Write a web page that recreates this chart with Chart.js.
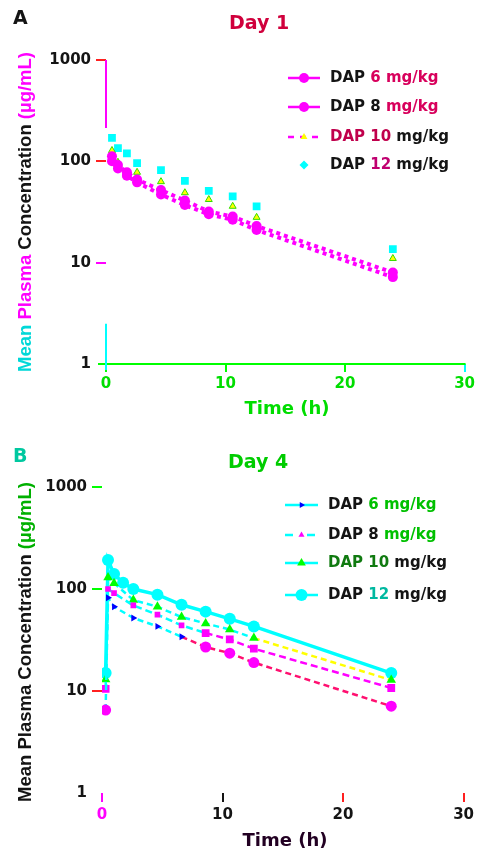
<!DOCTYPE html>
<html><head><meta charset="utf-8">
<script src="https://cdn.jsdelivr.net/npm/chart.js@4/dist/chart.umd.min.js"></script>
<style>
html,body{margin:0;padding:0;background:#fff;width:478px;height:856px;overflow:hidden}
.wrap{position:absolute;left:0;width:478px;height:428px}
#wa{top:0}#wb{top:428px}
canvas{display:block}
</style></head><body>
<div class="wrap" id="wa"><canvas id="ca" width="478" height="428"></canvas></div>
<div class="wrap" id="wb"><canvas id="cb" width="478" height="428"></canvas></div>
<script>
// ---- data ----
const seriesNames = ['DAP 6 mg/kg','DAP 8 mg/kg','DAP 10 mg/kg','DAP 12 mg/kg'];
const xTicks = [0,10,20,30];
const yTicks = [1,10,100,1000];
const panelTitles = ['Day 1','Day 4'];
const panelLetters = ['A','B'];
const xTitle = 'Time (h)';
const yTitle = ['Mean ','Plasma ','Concentration ','(\u00b5g/mL)'];

const day1Times = [0.5,1,1.75,2.6,4.6,6.6,8.6,10.6,12.6,24];
const day1Dap6  = [100,85,72,62,47,37,30,26.5,21,7.2];
const day1Dap8  = [112,92,78,66,52,41,32,28.5,23,8];
const day1Dap10 = [128,98,null,78,63,49,42,36,28,11];
const day1Dap12 = [170,135,120,96,82,64,51,45,36,13.6];

const day4Times = [0.3,0.5,1,1.75,2.6,4.6,6.6,8.6,10.6,12.6,24];
const day4Dap6  = [6.5,82,67,null,52,43,34,27,23.5,19,7.1];
const day4Dap8  = [10.5,100,91,null,69,56,44,37,32,26,10.7];
const day4Dap10 = [13,130,114,null,78,67,53,46,40,33,12.8];
const day4Dap12 = [15,192,140,115,100,88,70,60,51,43,15];

// ---- styling ----
const MAG='#ff00ff', CYA='#00ffff', YEL='#ffff00', GRN='#00ff00', RED='#ff2020', BLU='#0000ff', INK='#141414';
const F = "'DejaVu Sans', sans-serif";
const F2 = "'Liberation Sans', Arial, sans-serif";

function pts(times, vals){
  const out=[]; times.forEach((t,i)=>{ if(vals[i]!=null) out.push({x:t,y:vals[i]}); }); return out;
}
function segText(ctx, x, y, segs, align){
  let total = 0; segs.forEach(s=>{ total += ctx.measureText(s[0]).width; });
  let cx = align==='center' ? x - total/2 : x;
  ctx.textAlign='left';
  segs.forEach(([t,c])=>{ ctx.fillStyle=c; ctx.fillText(t,cx,y); cx += ctx.measureText(t).width; });
}
function splitName(name, parts){ // parts: [[len,color],...]
  const out=[]; let i=0;
  parts.forEach(([n,c])=>{ out.push([name.slice(i, i+n), c]); i+=n; });
  return out;
}

function makeScales(o){
  return {
    x:{type:'linear',min:0,max:30,
      afterBuildTicks:s=>{ s.ticks = xTicks.map(v=>({value:v})); },
      afterFit:s=>{ s.height = 30; },
      border:{display:false},
      grid:{drawOnChartArea:false,drawTicks:true,tickLength:o.xTickLen,lineWidth:2,
        color:c=> c.tick ? o.xTickColor(c.tick.value) : 'rgba(0,0,0,0)'},
      ticks:{padding:o.xPad,maxRotation:0,autoSkip:false,
        font:{family:F,weight:'bold',size:15},
        color:c=>o.xLabelColor(c.tick.value), callback:v=>String(v)}
    },
    y:{type:'logarithmic',min:1,max:1000,
      afterBuildTicks:s=>{ s.ticks = yTicks.map(v=>({value:v})); },
      afterFit:s=>{ s.width = o.yWidth; },
      border:{display:false},
      grid:{drawOnChartArea:false,drawTicks:true,tickLength:10,lineWidth:2,
        color:c=> c.tick ? o.yTickColor(c.tick.value) : 'rgba(0,0,0,0)'},
      ticks:{padding:5,autoSkip:false,
        font:{family:F,weight:'bold',size:15},
        color:INK, callback:v=>String(v)}
    }
  };
}

function decoPlugin(o){
  return {
    id:'deco',
    afterDraw(chart){
      const ctx = chart.ctx, xs = chart.scales.x, ys = chart.scales.y;
      ctx.save();
      // axis decorations
      if (o.axisLines) o.axisLines(ctx, xs, ys);
      // panel letter
      ctx.textBaseline='alphabetic';
      ctx.font = "bold 19px "+F;
      ctx.fillStyle = o.letterColor; ctx.textAlign='left';
      ctx.fillText(o.letter, 13, o.letterY);
      // title
      ctx.font = "bold 19px "+F;
      ctx.fillStyle = o.titleColor; ctx.textAlign='center';
      ctx.fillText(o.title, o.titleX, o.titleY);
      // x title
      ctx.font = "bold 18px "+F;
      ctx.fillStyle = o.xTitleColor; ctx.textAlign='center';
      ctx.fillText(xTitle, o.xTitleX, o.xTitleY);
      // y title (rotated, multi-colour)
      ctx.save();
      ctx.translate(25.5, o.yTitleY);
      ctx.rotate(-Math.PI/2);
      ctx.font = "bold 18.5px "+F2;
      ctx.textBaseline='middle';
      segText(ctx, 0, 0, yTitle.map((t,i)=>[t,o.yTitleColors[i]]), 'center');
      ctx.restore();
      // legend
      ctx.font = "bold 15px "+F;
      ctx.textBaseline='middle';
      o.legend.forEach((it, i)=>{
        if (it.line){
          ctx.save();
          ctx.strokeStyle = it.line.color; ctx.lineWidth = it.line.width;
          ctx.setLineDash(it.line.dash||[]);
          ctx.beginPath(); ctx.moveTo(o.legX0, it.y); ctx.lineTo(o.legX1, it.y); ctx.stroke();
          ctx.restore();
        }
        if (it.pt){
          ctx.save();
          ctx.fillStyle = it.pt.fill; ctx.strokeStyle = it.pt.stroke || it.pt.fill;
          Chart.helpers.drawPoint(ctx, {pointStyle:it.pt.style, radius:it.pt.r, rotation:it.pt.rot||0, borderWidth:it.pt.bw||0}, (o.legX0+o.legX1)/2, it.y);
          ctx.restore();
        }
        segText(ctx, o.legTextX, it.y, splitName(seriesNames[i], it.text), 'left');
      });
      ctx.restore();
    }
  };
}

// ---------------- Chart A (Day 1) ----------------
const optsA = {
  yWidth:106, xTickLen:8, xPad:3,
  xTickColor:v=> v===30 ? CYA : GRN,
  xLabelColor:v=>'#00dd00',
  yTickColor:v=> v===1 ? 'rgba(0,0,0,0)' : (v===10 ? MAG : RED)
};
new Chart(document.getElementById('ca'), {
  type:'line',
  data:{datasets:[
    {label:seriesNames[0], data:pts(day1Times,day1Dap6), borderColor:MAG, backgroundColor:MAG,
      borderWidth:4, borderDash:[4,4], pointStyle:'circle', pointRadius:5, pointBorderWidth:0, tension:0},
    {label:seriesNames[1], data:pts(day1Times,day1Dap8), borderColor:MAG, backgroundColor:MAG,
      borderWidth:4, borderDash:[4,4], pointStyle:'circle', pointRadius:5, pointBorderWidth:0, tension:0},
    {label:seriesNames[2], data:pts(day1Times,day1Dap10), showLine:false, borderColor:'#33dd00', backgroundColor:YEL,
      pointStyle:'triangle', pointRadius:4, pointBorderWidth:1},
    {label:seriesNames[3], data:pts(day1Times,day1Dap12), showLine:false, borderColor:CYA, backgroundColor:CYA,
      pointStyle:'rect', pointRadius:5.5, pointBorderWidth:0}
  ]},
  options:{
    responsive:false, animation:false, devicePixelRatio:1,
    layout:{padding:{left:0,top:60,right:11,bottom:34}},
    plugins:{legend:{display:false},tooltip:{enabled:false},title:{display:false}},
    scales:makeScales(optsA)
  },
  plugins:[decoPlugin({
    letter:panelLetters[0], letterColor:INK, letterY:24,
    title:panelTitles[0], titleColor:'#d0003c', titleX:259, titleY:29,
    xTitleColor:'#00dd00', xTitleX:287, xTitleY:414,
    yTitleY:212, yTitleColors:['#00d8d8',MAG,INK,MAG],
    legX0:288, legX1:320, legTextX:330,
    legend:[
      {y:78, line:{color:MAG,width:2.5}, pt:{style:'circle',r:5,fill:MAG}, text:[[4,INK],[20,'#d8005c']]},
      {y:107, line:{color:MAG,width:2.5}, pt:{style:'circle',r:5,fill:MAG}, text:[[6,INK],[20,'#d8005c']]},
      {y:137, line:{color:MAG,width:2.5,dash:[6,6]}, pt:{style:'triangle',r:4,fill:YEL}, text:[[7,'#c0004c'],[20,INK]]},
      {y:165, pt:{style:'rectRot',r:4.5,fill:CYA}, text:[[4,INK],[3,'#c00070'],[20,INK]]}
    ],
    axisLines:(ctx,xs,ys)=>{
      ctx.lineWidth=2;
      ctx.strokeStyle=GRN; ctx.beginPath();
      ctx.moveTo(98, ys.bottom); ctx.lineTo(xs.right+1, ys.bottom); ctx.stroke();
      const x0 = xs.getPixelForValue(0);
      ctx.strokeStyle=MAG; ctx.beginPath();
      ctx.moveTo(x0, ys.getPixelForValue(1000)); ctx.lineTo(x0, ys.getPixelForValue(213)); ctx.stroke();
      ctx.strokeStyle=CYA; ctx.beginPath();
      ctx.moveTo(x0, ys.getPixelForValue(2.5)); ctx.lineTo(x0, ys.bottom+6); ctx.stroke();
    }
  })]
});

// ---------------- Chart B (Day 4) ----------------
const optsB = {
  yWidth:102, xTickLen:9, xPad:4,
  xTickColor:v=> v===0 ? MAG : (v===10 ? INK : RED),
  xLabelColor:v=> v===0 ? MAG : INK,
  yTickColor:v=> v===1 ? 'rgba(0,0,0,0)' : (v===10 ? RED : GRN)
};
const segColor = (thr, late) => c => (c.p0.parsed.x >= thr ? late : CYA);
new Chart(document.getElementById('cb'), {
  type:'line',
  data:{datasets:[
    {label:seriesNames[0], data:pts(day4Times,day4Dap6), borderWidth:2.5, borderDash:[6,4], tension:0,
      borderColor:CYA, segment:{borderColor:segColor(6.5, '#ff1070')},
      pointStyle:c=> (c.raw && c.raw.x>0.4 && c.raw.x<7) ? 'triangle' : 'circle',
      pointRadius:c=> (c.raw && c.raw.x>0.4 && c.raw.x<7) ? 4 : 5.5,
      pointRotation:c=> (c.raw && c.raw.x>0.4 && c.raw.x<7) ? 90 : 0,
      pointBackgroundColor:c=> (c.raw && c.raw.x>0.4 && c.raw.x<7) ? BLU : MAG,
      pointBorderWidth:0},
    {label:seriesNames[1], data:pts(day4Times,day4Dap8), borderWidth:2.5, borderDash:[7,4], tension:0,
      borderColor:CYA, segment:{borderColor:segColor(8, MAG)},
      pointStyle:'rect', pointRadius:c=> (c.raw && c.raw.x>0.4 && c.raw.x<7) ? 4 : 5.5,
      pointBackgroundColor:MAG, pointBorderWidth:0},
    {label:seriesNames[2], data:pts(day4Times,day4Dap10), borderWidth:2.5, borderDash:[6,4], tension:0,
      borderColor:CYA, segment:{borderColor:segColor(12, YEL)},
      pointStyle:'triangle', pointRadius:5.5, pointBackgroundColor:GRN, pointBorderWidth:0},
    {label:seriesNames[3], data:pts(day4Times,day4Dap12), borderWidth:3.5, tension:0,
      borderColor:CYA, pointStyle:'circle', pointRadius:6, pointBackgroundColor:CYA, pointBorderWidth:0}
  ]},
  options:{
    responsive:false, animation:false, devicePixelRatio:1,
    layout:{padding:{left:0,top:59,right:12,bottom:33}},
    plugins:{legend:{display:false},tooltip:{enabled:false},title:{display:false}},
    scales:makeScales(optsB)
  },
  plugins:[decoPlugin({
    letter:panelLetters[1], letterColor:'#00c8a0', letterY:462-428,
    title:panelTitles[1], titleColor:'#00cc00', titleX:258, titleY:468-428,
    xTitleColor:'#220022', xTitleX:285, xTitleY:846-428,
    yTitleY:642-428, yTitleColors:[INK,INK,INK,'#00b000'],
    legX0:285, legX1:318, legTextX:328,
    legend:[
      {y:505-428, line:{color:CYA,width:2.5}, pt:{style:'triangle',r:3.5,rot:90,fill:BLU}, text:[[4,INK],[20,'#00c000']]},
      {y:535-428, line:{color:CYA,width:2.5,dash:[8,14]}, pt:{style:'triangle',r:3.5,fill:MAG}, text:[[6,INK],[20,'#00c000']]},
      {y:563-428, line:{color:CYA,width:2.5}, pt:{style:'triangle',r:5,fill:GRN}, text:[[7,'#107a10'],[20,INK]]},
      {y:595-428, line:{color:CYA,width:2.5}, pt:{style:'circle',r:6,fill:CYA}, text:[[4,INK],[3,'#00b8a0'],[20,INK]]}
    ]
  })]
});
</script>
</body></html>
